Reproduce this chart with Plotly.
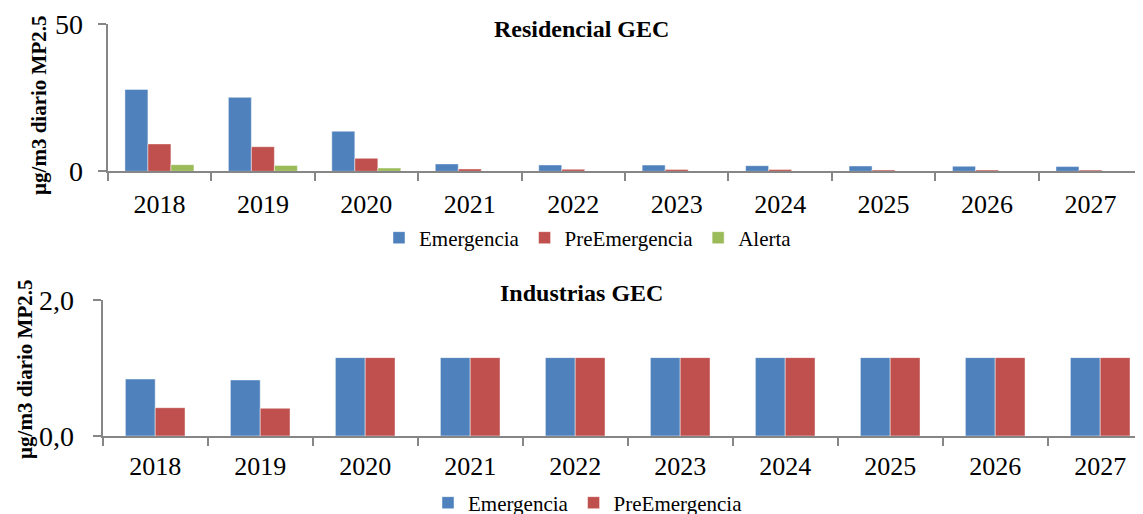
import plotly.graph_objects as go
from plotly.subplots import make_subplots

years = ["2018", "2019", "2020", "2021", "2022", "2023", "2024", "2025", "2026", "2027"]

res_emergencia = [27.8, 25.1, 13.6, 2.5, 2.15, 2.1, 1.9, 1.8, 1.7, 1.6]
res_preemergencia = [9.3, 8.35, 4.4, 0.8, 0.7, 0.65, 0.6, 0.45, 0.45, 0.4]
res_alerta = [2.25, 2.0, 1.1, 0.05, 0.05, 0.05, 0.05, 0.05, 0.05, 0.05]

ind_emergencia = [0.84, 0.826, 1.155, 1.155, 1.155, 1.155, 1.155, 1.155, 1.155, 1.155]
ind_preemergencia = [0.417, 0.408, 1.155, 1.155, 1.155, 1.155, 1.155, 1.155, 1.155, 1.155]

res_ticks = [0, 50]
res_ticktext = ["0", "50"]
ind_ticks = [0, 2]
ind_ticktext = ["0,0", "2,0"]

BLUE = "#4F81BD"
RED = "#C0504D"
GREEN = "#9BBB59"
FONT = "Liberation Serif, Times New Roman, serif"
AXIS = "#868686"

W, H = 1143, 514
OFF = 8  # page body margin


def px(x):
    return (x - OFF) / W


def py(y):
    return 1 - (y - OFF) / H


fig = make_subplots(rows=2, cols=1)

edge = dict(color="rgba(255,255,255,0.45)", width=1)
fig.add_trace(go.Bar(x=years, y=res_emergencia, name="Emergencia", marker=dict(color=BLUE, line=edge), legend="legend"), row=1, col=1)
fig.add_trace(go.Bar(x=years, y=res_preemergencia, name="PreEmergencia", marker=dict(color=RED, line=edge), legend="legend"), row=1, col=1)
fig.add_trace(go.Bar(x=years, y=res_alerta, name="Alerta", marker=dict(color=GREEN, line=edge), legend="legend"), row=1, col=1)

BW = 0.284  # industrial bar width (category units)
fig.add_trace(go.Bar(x=years, y=ind_emergencia, name="Emergencia", marker=dict(color=BLUE, line=edge),
                     legend="legend2", width=BW, offset=-BW), row=2, col=1)
fig.add_trace(go.Bar(x=years, y=ind_preemergencia, name="PreEmergencia", marker=dict(color=RED, line=edge),
                     legend="legend2", width=BW, offset=0), row=2, col=1)

xcommon = dict(showline=True, linecolor=AXIS, linewidth=2, ticks="outside", tickson="boundaries",
               ticklen=8, tickcolor=AXIS, tickwidth=2, showgrid=False, zeroline=False, automargin=False,
               tickfont=dict(family=FONT, size=26, color="black"), type="category")
ycommon = dict(showline=True, linecolor=AXIS, linewidth=2, ticks="outside", ticklen=8, tickcolor=AXIS,
               tickwidth=2, showgrid=False, zeroline=False, automargin=False,
               tickfont=dict(family=FONT, size=28, color="black"))

fig.update_xaxes(**xcommon, domain=[px(107.7), px(1142.2)], ticklabelstandoff=8, row=1, col=1)
bot_end = 1151.0
fig.update_xaxes(**xcommon, domain=[px(102.7), px(bot_end)], ticklabelstandoff=6, row=2, col=1)
fig.update_yaxes(**ycommon, range=[0, 50], tickvals=res_ticks, ticktext=res_ticktext,
                 domain=[py(171.3), py(24)], ticklabelstandoff=9, row=1, col=1)
fig.update_yaxes(**ycommon, range=[0, 2], tickvals=ind_ticks, ticktext=ind_ticktext,
                 domain=[py(436), py(300.3)], ticklabelstandoff=13, row=2, col=1)

fig.update_layout(
    width=W, height=H,
    margin=dict(l=0, r=0, t=0, b=0, autoexpand=False),
    plot_bgcolor="white", paper_bgcolor="white",
    barmode="group", bargap=0.333,
    font=dict(family=FONT, color="black"),
    legend=dict(orientation="h", x=px(588), xanchor="center", y=py(238), yanchor="middle",
                font=dict(family=FONT, size=21), bgcolor="rgba(0,0,0,0)"),
    legend2=dict(orientation="h", x=px(588), xanchor="center", y=py(503), yanchor="middle",
                 font=dict(family=FONT, size=21), bgcolor="rgba(0,0,0,0)"),
    annotations=[
        dict(text="<b>Residencial GEC</b>", x=px(582), y=py(29.3), xref="paper", yref="paper",
             showarrow=False, font=dict(family=FONT, size=24, color="black"), xanchor="center", yanchor="middle"),
        dict(text="<b>Industrias GEC</b>", x=px(582), y=py(293.3), xref="paper", yref="paper",
             showarrow=False, font=dict(family=FONT, size=24, color="black"), xanchor="center", yanchor="middle"),
        dict(text="<b>µg/m3 diario MP2.5</b>", x=px(39), y=py(105), xref="paper", yref="paper", textangle=-90,
             showarrow=False, font=dict(family=FONT, size=21, color="black"), xanchor="center", yanchor="middle"),
        dict(text="<b>µg/m3 diario MP2.5</b>", x=px(25), y=py(369), xref="paper", yref="paper", textangle=-90,
             showarrow=False, font=dict(family=FONT, size=21, color="black"), xanchor="center", yanchor="middle"),
    ],
)
fig.layout.xaxis2.update(range=[-0.5, -0.5 + (bot_end - 102.7) / 105.0], autorange=False)

fig.write_html("out.html")
